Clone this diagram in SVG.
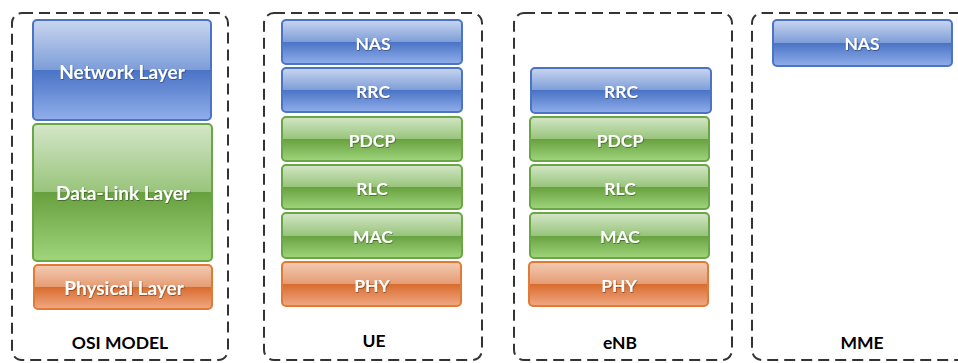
<svg xmlns="http://www.w3.org/2000/svg" width="958" height="363" viewBox="0 0 958 363">
<defs>
<linearGradient id="gBlue" x1="0" y1="0" x2="0" y2="1">
<stop offset="0" stop-color="#c9d6ef"/>
<stop offset="0.5" stop-color="#7d9dd8"/>
<stop offset="0.5" stop-color="#4a73c5"/>
<stop offset="1" stop-color="#90aeea"/>
</linearGradient>
<linearGradient id="gGreen" x1="0" y1="0" x2="0" y2="1">
<stop offset="0" stop-color="#d4e6c8"/>
<stop offset="0.5" stop-color="#98c47b"/>
<stop offset="0.5" stop-color="#67a03f"/>
<stop offset="1" stop-color="#a0d57c"/>
</linearGradient>
<linearGradient id="gOrange" x1="0" y1="0" x2="0" y2="1">
<stop offset="0" stop-color="#f3cbb4"/>
<stop offset="0.5" stop-color="#e59c73"/>
<stop offset="0.5" stop-color="#d86b2c"/>
<stop offset="1" stop-color="#f1a985"/>
</linearGradient>
<filter id="sh" x="-10%" y="-30%" width="120%" height="160%">
<feDropShadow dx="0.6" dy="0.8" stdDeviation="0.6" flood-color="#000" flood-opacity="0.45"/>
</filter>
</defs>
<style>
.frame{fill:none;stroke:#333;stroke-width:2;stroke-dasharray:11 6}
.blue{fill:url(#gBlue);stroke:#4c74c6;stroke-width:2}
.green{fill:url(#gGreen);stroke:#6aa646;stroke-width:2}
.orange{fill:url(#gOrange);stroke:#e07a35;stroke-width:2}
.lt{font-family:Lato,"Liberation Sans",sans-serif;font-weight:bold;font-size:17.5px;fill:#fff;text-anchor:middle;dominant-baseline:central;filter:url(#sh)}
.big{font-size:19px}
.cap{font-family:Lato,"Liberation Sans",sans-serif;font-weight:bold;font-size:17.5px;fill:#000;text-anchor:middle;dominant-baseline:central}
</style>

<g id="osi">
<rect class="frame" x="12" y="13" width="216" height="347" rx="10"/>
<g id="osi-network"><rect class="blue" x="33" y="20" width="178" height="100" rx="4"/><text class="lt big" x="122" y="71">Network Layer</text></g>
<g id="osi-datalink"><rect class="green" x="33" y="124" width="179" height="137" rx="4"/><text class="lt big" x="123" y="192">Data-Link Layer</text></g>
<g id="osi-physical"><rect class="orange" x="34" y="265" width="178" height="44" rx="4"/><text class="lt big" x="124" y="287">Physical Layer</text></g>
<text class="cap" x="120" y="342">OSI MODEL</text>
</g>

<g id="ue">
<rect class="frame" x="264" y="13" width="218" height="347" rx="10"/>
<g id="ue-nas"><rect class="blue" x="282" y="20" width="180" height="44" rx="4"/><text class="lt" x="373" y="43">NAS</text></g>
<g id="ue-rrc"><rect class="blue" x="282" y="68" width="180" height="44" rx="4"/><text class="lt" x="373" y="91">RRC</text></g>
<g id="ue-pdcp"><rect class="green" x="282" y="117" width="180" height="44" rx="4"/><text class="lt" x="372" y="140">PDCP</text></g>
<g id="ue-rlc"><rect class="green" x="282" y="165" width="180" height="44" rx="4"/><text class="lt" x="372" y="188">RLC</text></g>
<g id="ue-mac"><rect class="green" x="282" y="213" width="180" height="45" rx="4"/><text class="lt" x="373" y="236">MAC</text></g>
<g id="ue-phy"><rect class="orange" x="282" y="262" width="179" height="44" rx="4"/><text class="lt" x="372" y="285">PHY</text></g>
<text class="cap" x="374" y="340">UE</text>
</g>

<g id="enb">
<rect class="frame" x="514" y="13" width="218" height="347" rx="10"/>
<g id="enb-rrc"><rect class="blue" x="531" y="68" width="180" height="45" rx="4"/><text class="lt" x="621" y="91">RRC</text></g>
<g id="enb-pdcp"><rect class="green" x="530" y="117" width="179" height="44" rx="4"/><text class="lt" x="620" y="140">PDCP</text></g>
<g id="enb-rlc"><rect class="green" x="530" y="165" width="179" height="44" rx="4"/><text class="lt" x="620" y="188">RLC</text></g>
<g id="enb-mac"><rect class="green" x="530" y="213" width="179" height="45" rx="4"/><text class="lt" x="620" y="236">MAC</text></g>
<g id="enb-phy"><rect class="orange" x="529" y="262" width="179" height="44" rx="4"/><text class="lt" x="619" y="285">PHY</text></g>
<text class="cap" x="620" y="342">eNB</text>
</g>

<g id="mme">
<rect class="frame" x="752" y="13" width="240" height="347" rx="10"/>
<g id="mme-nas"><rect class="blue" x="773" y="20" width="179" height="46" rx="4"/><text class="lt" x="862" y="43">NAS</text></g>
<text class="cap" x="862" y="342">MME</text>
</g>

<g id="connectors"></g>
</svg>
